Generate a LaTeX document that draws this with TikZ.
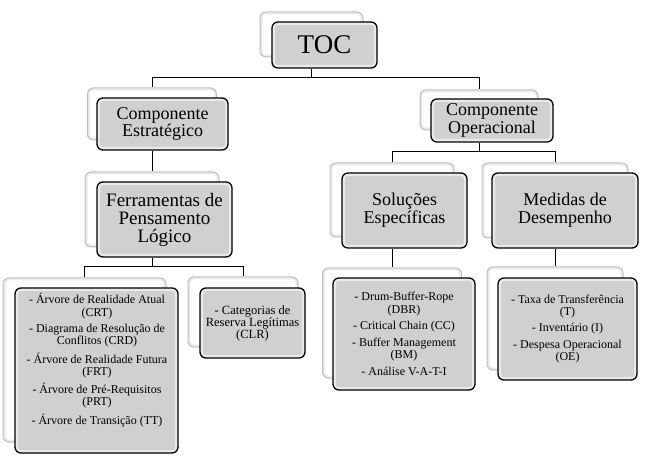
\documentclass[tikz,border=0pt]{standalone}
\usepackage{fontspec}
\setmainfont{Liberation Serif}
\definecolor{boxgray}{RGB}{208,208,208}
\pgfdeclarelayer{bg}
\pgfsetlayers{bg,main}
\begin{document}
\begin{tikzpicture}[x=1pt,y=-1pt,
  front/.style={draw=black, line width=1.3pt, rounded corners=6pt, fill=boxgray, inner sep=0pt, align=center,
    path picture={\draw[white, opacity=.55, line width=6pt, rounded corners=5pt]
      (path picture bounding box.south west) rectangle (path picture bounding box.north east);}},
  back/.style={draw=black!25, line width=1pt, fill=white, rounded corners=6pt, inner sep=0pt,
    path picture={\draw[black!8, line width=5pt, rounded corners=5pt]
      (path picture bounding box.south west) rectangle (path picture bounding box.north east);}},
  conn/.style={draw=black, line width=1pt},
  lvl/.style={font=\fontsize{18}{18}\selectfont},
  leaf/.style={align=center, inner sep=0pt, font=\fontsize{12}{12.3}\selectfont}]
\useasboundingbox (0,0) rectangle (651,457);

% TOC
\node[back, minimum width=103pt, minimum height=45pt] (tocB) at (311.5,34.5) {};
\node[front, minimum width=105pt, minimum height=46pt, font=\fontsize{27}{28}\selectfont] (toc) at (324.5,45) {TOC};

% level 1
\node[back, minimum width=129pt, minimum height=52pt] (ceB) at (152,114) {};
\node[front, minimum width=131pt, minimum height=52pt, font=\fontsize{18}{15.5}\selectfont] (ce) at (162.5,124) {Componente\\Estratégico};
\node[back, minimum width=118pt, minimum height=40pt] (coB) at (479,110) {};
\node[front, minimum width=122pt, minimum height=43pt, lvl] (co) at (492,120.5) {Componente\\Operacional};

% level 2
\node[back, minimum width=134pt, minimum height=75pt] (fpB) at (152,209.5) {};
\node[front, minimum width=135pt, minimum height=75pt, font=\fontsize{19}{18}\selectfont] (fp) at (164.5,219.5) {Ferramentas de\\Pensamento\\Lógico};
\node[back, minimum width=124pt, minimum height=74pt] (seB) at (392,200) {};
\node[front, minimum width=125pt, minimum height=75pt, lvl] (se) at (404.5,210.5) {Soluções\\Específicas};
\node[back, minimum width=146pt, minimum height=75pt] (mdB) at (555,200.5) {};
\node[front, minimum width=146pt, minimum height=75pt, lvl] (md) at (565,210.5) {Medidas de\\Desempenho};

% leaves
\node[back, minimum width=163pt, minimum height=164pt] (l1B) at (84.5,360) {};
\node[front, minimum width=163pt, minimum height=165pt] (l1) at (96.5,370.5) {};
\node[leaf] (l1t) at (97,360) {- Árvore de Realidade Atual\\(CRT)\\[4.3pt]
  - Diagrama de Resolução de\\Conflitos (CRD)\\[4.3pt]
  - Árvore de Realidade Futura\\(FRT)\\[4.3pt]
  - Árvore de Pré-Requisitos\\(PRT)\\[4.3pt]
  - Árvore de Transição (TT)};

\node[back, minimum width=110pt, minimum height=70pt] (l2B) at (243,312) {};
\node[front, minimum width=105pt, minimum height=70pt, font=\fontsize{12.5}{12}\selectfont] (l2) at (252.5,323) {- Categorias de\\Reserva Legítimas\\(CLR)};

\node[back, minimum width=139pt, minimum height=110pt] (l3B) at (392,323) {};
\node[front, minimum width=142pt, minimum height=112pt, font=\fontsize{12}{12.3}\selectfont] (l3) at (404,334) {- Drum-Buffer-Rope\\(DBR)\\[4.3pt]
  - Critical Chain (CC)\\[4.3pt]
  - Buffer Management\\(BM)\\[4.3pt]
  - Análise V-A-T-I};

\node[back, minimum width=136pt, minimum height=103pt] (l4B) at (555,318.5) {};
\node[front, minimum width=139pt, minimum height=102pt, font=\fontsize{12}{12.3}\selectfont] (l4) at (567.5,329) {- Taxa de Transferência\\(T)\\[4.3pt]
  - Inventário (I)\\[4.3pt]
  - Despesa Operacional\\(OE)};

% connectors
\coordinate (busA) at (0,78);
\coordinate (busB) at (0,267);
\coordinate (busC) at (0,152);
\begin{pgfonlayer}{bg}
\draw[conn] (tocB.center |- toc.south) -- (tocB.center |- busA) -| (ceB.north);
\draw[conn] (tocB.center |- busA) -| (coB.north);
\draw[conn] (ceB.center |- ce.south) -- (fpB.north);
\draw[conn] (fpB.center |- fp.south) -- (fpB.center |- busB) -| (l1B.north);
\draw[conn] (fpB.center |- busB) -| (l2B.north);
\draw[conn] (coB.center |- co.south) -- (coB.center |- busC) -| (seB.north);
\draw[conn] (coB.center |- busC) -| (mdB.north);
\draw[conn] (seB.center |- se.south) -- (l3B.north);
\draw[conn] (mdB.center |- md.south) -- (l4B.north);
\end{pgfonlayer}
\end{tikzpicture}
\end{document}
